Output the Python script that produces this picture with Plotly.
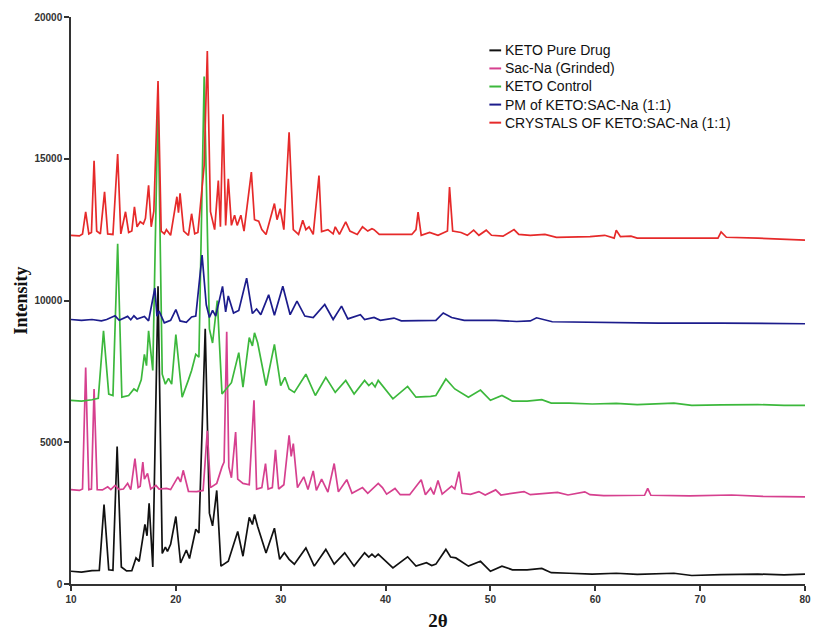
import plotly.graph_objects as go

# ---- data (2-theta, intensity) ----
keto_pure = [(10,450),(11,420),(12,470),(12.7,480),(13.15,2800),(13.6,500),(14.0,480),(14.4,4850),(14.8,600),
    (15.3,460),(15.8,470),(16.2,920),(16.5,800),(17.05,2100),(17.25,1700),(17.45,2850),(17.8,600),(18.3,10500),
    (18.7,1080),(19.0,1300),(19.2,1150),(19.5,1400),(20.0,2380),(20.45,740),(21.0,1200),(21.3,900),(21.9,1930),
    (22.2,1800),(22.8,9000),(23.2,2500),(23.5,2050),(23.9,3300),(24.3,630),(25.0,800),(25.9,1850),(26.4,980),
    (27.0,2350),(27.3,2100),(27.5,2450),(27.8,2030),(28.6,1090),(29.4,1970),(29.9,870),(30.35,1100),(30.8,870),
    (31.3,700),(32.4,1270),(33.2,630),(34.3,1220),(35.1,700),(36.1,1100),(37.0,630),(38.0,1100),(38.4,950),
    (38.7,1050),(39.0,950),(39.3,1050),(40.7,570),(42.1,960),(42.9,630),(43.9,750),(44.4,650),(44.8,700),
    (45.75,1220),(46.2,950),(46.7,920),(47.9,630),(49.05,800),(50.0,450),(51.1,630),(52.1,500),(53.5,500),
    (54.9,550),(55.8,400),(57.5,380),(59.7,350),(62,380),(64,340),(67.5,380),(69.2,300),(72,330),(75.5,350),
    (78,320),(80,350)]

sac_na = [(10,3330),(10.8,3300),(11.1,3350),(11.4,7640),(11.7,3330),(11.95,3350),(12.2,6880),(12.5,3330),
    (13.0,3320),(13.5,3430),(13.8,3330),(14.2,3480),(14.6,3330),(15.0,3350),(15.4,3550),(15.7,3330),(16.1,4420),
    (16.4,3400),(16.6,3450),(16.85,4300),(17.0,3700),(17.3,3900),(17.6,3350),(18.1,3480),(18.4,3350),(19.1,3370),
    (19.5,3330),(20.2,3780),(20.45,3600),(20.7,4010),(21.2,3270),(22.0,3260),(22.6,3300),(23.0,5400),(23.3,3400),
    (23.9,3550),(24.4,4130),(24.6,4300),(24.85,8900),(25.05,4130),(25.3,3750),(25.7,5360),(25.9,3700),(26.4,3550),
    (27.0,3500),(27.45,6480),(27.7,3350),(28.2,3400),(28.55,4250),(28.8,3350),(29.2,3400),(29.5,4730),(29.8,3350),
    (30.3,3500),(30.8,5240),(31.0,4500),(31.2,4950),(31.6,3400),(32.2,3780),(32.6,3330),(33.1,3990),(33.4,3300),
    (33.9,3700),(34.5,3240),(35.1,4250),(35.5,3250),(36.3,3680),(36.8,3200),(37.8,3400),(38.3,3200),(39.3,3550),
    (39.7,3400),(40.1,3170),(40.9,3370),(41.4,3150),(42.3,3150),(43.4,3680),(43.8,3150),(44.3,3380),(44.6,3160),
    (45.0,3650),(45.4,3170),(46.3,3450),(46.6,3350),(47.0,3960),(47.3,3200),(48.1,3160),(48.9,3260),(49.5,3140),
    (50.5,3320),(51.0,3140),(53.2,3260),(53.8,3150),(56.4,3230),(57.4,3140),(59.0,3250),(59.5,3150),(60.8,3120),
    (64.7,3130),(65.0,3370),(65.3,3130),(69,3110),(73,3140),(76,3090),(80,3070)]

keto_control = [(10,6480),(11,6450),(12,6500),(12.6,6550),(13.1,8930),(13.6,6700),(14.0,6650),(14.45,12000),
    (14.85,6590),(15.5,6650),(16.0,6880),(16.3,6800),(16.7,7200),(17.0,8100),(17.2,7700),(17.4,8930),(17.8,7530),
    (18.3,17000),(18.7,7400),(19.0,7050),(19.3,7250),(19.6,7050),(20.0,8800),(20.6,6590),(21.2,7200),(21.5,7530),
    (21.9,8100),(22.2,8000),(22.7,17900),(23.2,9000),(23.5,8500),(23.95,10000),(24.4,6700),(25.3,7100),(26.0,8160),
    (26.4,6940),(27.0,8690),(27.3,8400),(27.5,8860),(27.8,8510),(28.6,7000),(29.4,8450),(30.0,7000),(30.4,7290),
    (30.8,6880),(31.3,6760),(32.4,7400),(33.3,6650),(34.3,7290),(35.2,6760),(36.2,7180),(37.0,6700),(38.0,7180),
    (38.4,7000),(38.7,7100),(39.0,6950),(39.3,7180),(40.7,6530),(42.1,6970),(42.9,6590),(44.3,6620),(44.8,6650),
    (45.75,7230),(46.6,6880),(47.9,6590),(49.05,6840),(50.0,6480),(51.1,6650),(52.1,6450),(53.5,6450),(54.9,6500),
    (55.8,6380),(57.5,6380),(59.7,6350),(62,6370),(64,6330),(67.5,6380),(69.2,6300),(72,6320),(75.5,6330),
    (78,6300),(80,6300)]

pm_keto_sac = [(10,9330),(11,9300),(12,9330),(12.9,9280),(13.4,9330),(14.2,9460),(14.6,9300),(15.4,9440),
    (15.7,9320),(16.0,9460),(16.3,9350),(17.0,9440),(17.4,9280),(18.0,10440),(18.2,9450),(18.4,9630),(18.9,9210),
    (19.5,9300),(20.0,9680),(20.4,9280),(21.0,9230),(21.5,9420),(21.9,9450),(22.5,11600),(22.9,9850),(23.2,9400),
    (23.5,9650),(23.8,9450),(24.45,10500),(24.75,9600),(25.0,10160),(25.5,9560),(26.0,9650),(26.75,10790),
    (27.3,9540),(27.7,9700),(28.1,9500),(28.85,10200),(29.4,9480),(30.2,10500),(30.9,9500),(31.55,9980),
    (32.3,9450),(33.1,9400),(34.2,9860),(35.0,9330),(35.8,9800),(36.4,9350),(37.6,9500),(38.0,9330),(38.9,9400),
    (39.5,9300),(40.8,9380),(41.5,9280),(44.8,9300),(45.5,9560),(46.3,9400),(47.5,9300),(50.5,9300),(52.5,9260),
    (53.8,9280),(54.4,9390),(55.9,9250),(59.7,9230),(66,9200),(72,9200),(80,9180)]

crystals = [(10,12300),(10.8,12280),(11.1,12350),(11.4,13130),(11.7,12350),(11.95,12400),(12.2,14930),
    (12.45,12450),(12.8,12350),(13.2,13830),(13.5,12350),(14.0,12330),(14.45,15170),(14.75,12350),(15.2,13130),
    (15.5,12400),(15.8,12450),(16.05,13300),(16.3,12600),(16.6,12780),(16.9,12700),(17.1,12900),(17.4,14060),
    (17.65,12600),(17.9,13150),(18.3,17740),(18.6,12450),(18.9,12350),(19.1,12500),(19.5,12300),(20.1,13660),
    (20.25,13100),(20.4,13780),(20.75,12450),(21.2,12300),(21.5,13060),(21.8,12350),(22.1,12400),(22.7,14760),
    (23.0,18800),(23.3,13130),(23.7,12500),(24.05,14230),(24.25,12600),(24.5,16570),(24.75,12650),(25.0,14290),
    (25.3,12650),(25.6,13010),(25.85,12650),(26.2,13010),(26.5,12450),(27.2,14530),(27.5,12850),(27.9,12800),
    (28.2,12500),(28.6,12330),(29.4,13420),(29.65,12850),(29.95,13240),(30.3,12500),(30.8,15930),(31.2,12500),
    (31.7,12330),(32.1,12830),(32.4,12500),(32.7,12600),(33.1,12330),(33.65,14410),(33.9,12430),(34.5,12500),
    (35.0,12350),(35.2,12600),(35.6,12330),(36.2,12770),(36.6,12450),(37.3,12330),(37.8,12600),(38.3,12450),
    (38.7,12530),(38.9,12500),(39.4,12330),(40.5,12330),(42.5,12330),(42.9,12500),(43.1,13120),(43.4,12300),
    (44.2,12400),(45.0,12300),(45.9,12450),(46.1,14000),(46.4,12450),(47.2,12400),(47.8,12300),(48.4,12480),
    (48.9,12300),(49.6,12480),(50.1,12300),(51.2,12270),(52.25,12500),(52.7,12330),(53.8,12300),(55.2,12330),
    (56.3,12230),(59.5,12250),(60.9,12300),(61.8,12200),(62.0,12480),(62.4,12250),(63.4,12270),(64.0,12200),
    (69.5,12200),(71.7,12200),(72.0,12420),(72.5,12230),(75.5,12200),(80,12130)]

series_names = ["KETO Pure Drug", "Sac-Na (Grinded)", "KETO Control",
                "PM of KETO:SAC-Na (1:1)", "CRYSTALS OF KETO:SAC-Na (1:1)"]
series_data = [keto_pure, sac_na, keto_control, pm_keto_sac, crystals]
series_colors = ["#111111", "#d6408f", "#3cb83c", "#1c1c8c", "#e62a2a"]

x_ticks = [10, 20, 30, 40, 50, 60, 70, 80]
y_ticks = [0, 5000, 10000, 15000, 20000]

fig = go.Figure()
for name, data, color in zip(series_names, series_data, series_colors):
    xs = [p[0] for p in data]
    ys = [p[1] for p in data]
    fig.add_trace(go.Scatter(x=xs, y=ys, mode="lines", name=name, showlegend=False,
                             line=dict(color=color, width=1.7)))

# compact legend (tight line spacing as in the reference): one multi-line label block
# plus a short coloured sample line in front of each row
LEG_FONT = 14
row_h = LEG_FONT * 1.3 / 571.0          # plotly line height, in paper units of the plot height
leg_mid = 0.8774                        # paper y of the middle row
leg_x0, leg_x1, leg_tx = 0.570, 0.586, 0.589
fig.add_annotation(xref="paper", yref="paper", x=leg_tx, y=leg_mid,
                   text="<br>".join(series_names), align="left", showarrow=False,
                   xanchor="left", yanchor="middle",
                   font=dict(family="Liberation Sans", size=LEG_FONT, color="#111111"))
n = len(series_names)
for i, color in enumerate(series_colors):
    yy = leg_mid + ((n - 1) / 2 - i) * row_h
    fig.add_shape(type="line", xref="paper", yref="paper", x0=leg_x0, x1=leg_x1,
                  y0=yy, y1=yy, line=dict(color=color, width=2))

tick_font = dict(family="Liberation Sans", size=10, color="#333333", weight="bold")
axis_common = dict(showline=True, linecolor="#333333", linewidth=1.5, ticks="outside",
                   ticklen=5, tickwidth=1.5, tickcolor="#333333", showgrid=False,
                   zeroline=False, tickfont=tick_font)

fig.update_layout(
    width=819, height=636,
    margin=dict(l=71, r=8, t=17, b=48),
    paper_bgcolor="white", plot_bgcolor="white",
    xaxis=dict(range=[10, 80], tickvals=x_ticks, tickformat="d",
               title=dict(text="2θ", font=dict(family="Liberation Serif", size=19,
                                                color="#111111", weight="bold"), standoff=10),
               **axis_common),
    yaxis=dict(range=[0, 20000], tickvals=y_ticks, tickformat="d",
               title=dict(text="Intensity", font=dict(family="Liberation Serif", size=18,
                                                       color="#111111", weight="bold"), standoff=2),
               **axis_common),
    showlegend=False,
)

fig.write_html("out.html")
